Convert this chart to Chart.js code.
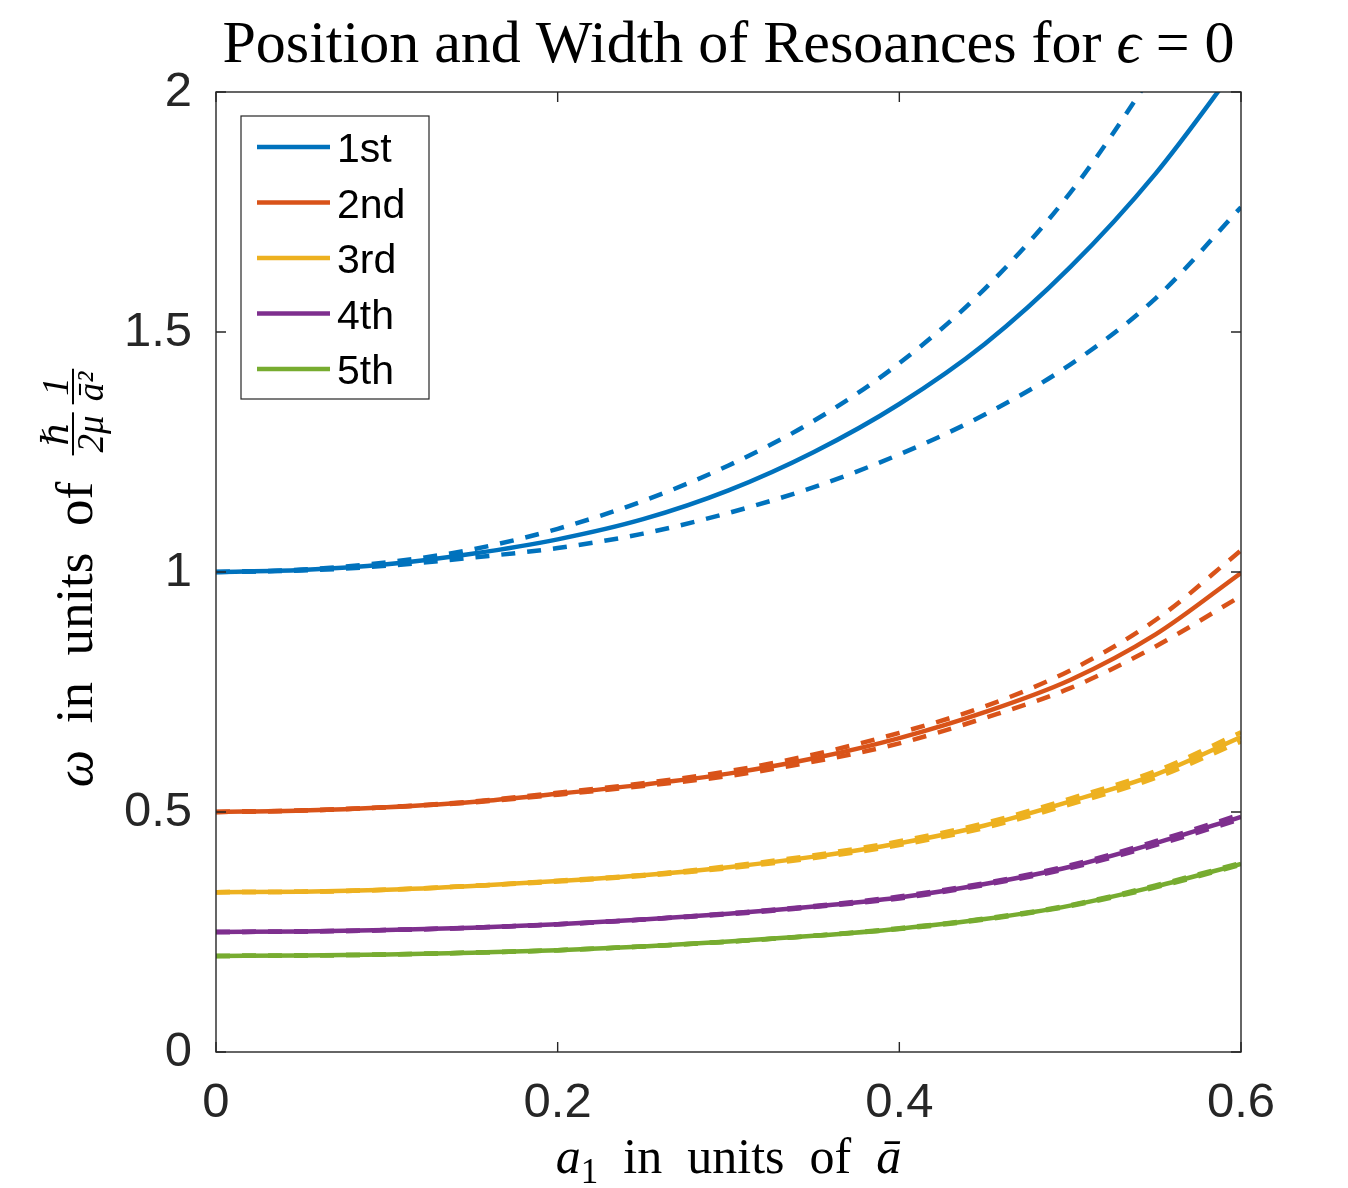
<!DOCTYPE html>
<html>
<head>
<meta charset="utf-8">
<title>Position and Width of Resoances</title>
<script src="https://cdn.jsdelivr.net/npm/chart.js@4.4.1/dist/chart.umd.min.js"></script>
<style>
  html, body { margin: 0; padding: 0; background: #fff; }
  #wrap { width: 1348px; height: 1188px; }
</style>
</head>
<body>
<div id="wrap"><canvas id="myChart" width="1348" height="1188"></canvas></div>
<script>
// a1 values (units of a-bar)
const a1 = [0, 0.05, 0.1, 0.15, 0.2, 0.25, 0.3, 0.35, 0.4, 0.45, 0.5, 0.55, 0.6];

// resonance positions (solid) and position +/- width (dashed)
const pos1 = [1.0, 1.004, 1.016, 1.038, 1.068, 1.11, 1.17, 1.25, 1.35, 1.475, 1.635, 1.83, 2.065];
const up1  = [1.0, 1.005, 1.02, 1.047, 1.09, 1.148, 1.222, 1.315, 1.435, 1.59, 1.79, 2.05, 2.36];
const lo1  = [1.0, 1.003, 1.013, 1.03, 1.05, 1.08, 1.123, 1.177, 1.245, 1.328, 1.432, 1.57, 1.76];

const pos2 = [0.5, 0.503, 0.51, 0.521, 0.538, 0.557, 0.58, 0.612, 0.654, 0.708, 0.775, 0.87, 0.998];
const up2  = [0.5, 0.503, 0.51, 0.522, 0.54, 0.56, 0.585, 0.62, 0.665, 0.72, 0.795, 0.9, 1.045];
const lo2  = [0.5, 0.503, 0.51, 0.52, 0.536, 0.554, 0.575, 0.605, 0.643, 0.696, 0.758, 0.845, 0.95];

const pos3 = [0.333, 0.334, 0.338, 0.346, 0.356, 0.368, 0.385, 0.407, 0.435, 0.472, 0.522, 0.578, 0.656];
const up3  = [0.333, 0.334, 0.338, 0.346, 0.357, 0.369, 0.387, 0.41, 0.439, 0.477, 0.528, 0.585, 0.666];
const lo3  = [0.333, 0.334, 0.338, 0.346, 0.355, 0.367, 0.383, 0.404, 0.431, 0.467, 0.516, 0.571, 0.647];

const pos4 = [0.25, 0.251, 0.254, 0.259, 0.266, 0.276, 0.288, 0.303, 0.322, 0.35, 0.386, 0.435, 0.49];
const up4  = [0.25, 0.251, 0.254, 0.259, 0.266, 0.276, 0.289, 0.304, 0.324, 0.352, 0.389, 0.439, 0.495];
const lo4  = [0.25, 0.251, 0.254, 0.259, 0.266, 0.276, 0.287, 0.302, 0.32, 0.348, 0.383, 0.431, 0.485];

const pos5 = [0.2, 0.201, 0.203, 0.207, 0.212, 0.22, 0.23, 0.242, 0.257, 0.277, 0.305, 0.345, 0.392];
const up5  = [0.2, 0.201, 0.203, 0.207, 0.212, 0.22, 0.23, 0.242, 0.258, 0.278, 0.306, 0.347, 0.394];
const lo5  = [0.2, 0.201, 0.203, 0.207, 0.212, 0.22, 0.23, 0.242, 0.256, 0.276, 0.304, 0.343, 0.39];

const labels = ["1st", "2nd", "3rd", "4th", "5th"];
const colors = ["#0072BD", "#D95319", "#EDB120", "#7E2F8E", "#77AC30"];

const xTicks = [0, 0.2, 0.4, 0.6];
const yTicks = [0, 0.5, 1, 1.5, 2];

const series = [[pos1, up1, lo1], [pos2, up2, lo2], [pos3, up3, lo3], [pos4, up4, lo4], [pos5, up5, lo5]];

function pts(arr) {
  return a1.map(function(x, i) { return { x: x, y: arr[i] }; });
}

const datasets = [];
series.forEach(function(s, i) {
  datasets.push({
    label: labels[i], data: pts(s[0]), borderColor: colors[i], borderWidth: 4.5,
    pointRadius: 0, cubicInterpolationMode: "monotone", fill: false, order: 1
  });
  [s[1], s[2]].forEach(function(d) {
    datasets.push({
      label: "", data: pts(d), borderColor: colors[i], borderWidth: 4.5, borderDash: [14, 12],
      pointRadius: 0, cubicInterpolationMode: "monotone", fill: false, order: 0
    });
  });
});

// draw text made of runs (different fonts / offsets) on one baseline
function runsWidth(ctx, runs) {
  let w = 0;
  runs.forEach(function(r) { ctx.font = r.font; w += ctx.measureText(r.text).width; });
  return w;
}
function drawRuns(ctx, runs, x, y) {
  runs.forEach(function(r) {
    ctx.font = r.font;
    ctx.fillText(r.text, x, y + (r.dy || 0));
    x += ctx.measureText(r.text).width;
  });
  return x;
}
function fracWidth(ctx, num, den, font) {
  ctx.font = font;
  return Math.max(ctx.measureText(num).width, ctx.measureText(den).width) + 6;
}
function drawFrac(ctx, num, den, x, barY, font) {
  ctx.font = font;
  const wn = ctx.measureText(num).width, wd = ctx.measureText(den).width;
  const w = Math.max(wn, wd) + 6;
  ctx.textAlign = "left";
  ctx.fillText(num, x + (w - wn) / 2, barY - 5);
  ctx.fillText(den, x + (w - wd) / 2, barY + 30);
  ctx.fillRect(x, barY - 1, w, 2);
  return x + w;
}

const serif = "'Liberation Serif', 'DejaVu Serif', serif";
const sp = "\u2002";
const decor = {
  id: "decor",
  afterDraw: function(chart) {
    const ctx = chart.ctx;
    const area = chart.chartArea;
    const xs = chart.scales.x, ys = chart.scales.y;
    ctx.save();
    // box and inward ticks
    ctx.strokeStyle = "#262626";
    ctx.lineWidth = 1.4;
    ctx.strokeRect(area.left, area.top, area.right - area.left, area.bottom - area.top);
    ctx.beginPath();
    xTicks.forEach(function(v) {
      const px = xs.getPixelForValue(v);
      ctx.moveTo(px, area.bottom); ctx.lineTo(px, area.bottom - 10);
      ctx.moveTo(px, area.top); ctx.lineTo(px, area.top + 10);
    });
    yTicks.forEach(function(v) {
      const py = ys.getPixelForValue(v);
      ctx.moveTo(area.left, py); ctx.lineTo(area.left + 10, py);
      ctx.moveTo(area.right, py); ctx.lineTo(area.right - 10, py);
    });
    ctx.stroke();

    // legend
    const lx = area.left + 25, ly = area.top + 24;
    ctx.fillStyle = "#fff";
    ctx.fillRect(lx, ly, 188, 283);
    ctx.strokeStyle = "#262626";
    ctx.lineWidth = 1.2;
    ctx.strokeRect(lx, ly, 188, 283);
    ctx.font = "41px 'Liberation Sans', Arial, sans-serif";
    ctx.textAlign = "left";
    ctx.textBaseline = "alphabetic";
    chart.data.datasets.filter(function(d) { return d.label; }).forEach(function(d, i) {
      const y = ly + 31 + i * 55.5;
      ctx.strokeStyle = d.borderColor;
      ctx.lineWidth = 4.5;
      ctx.beginPath();
      ctx.moveTo(lx + 16, y); ctx.lineTo(lx + 89, y);
      ctx.stroke();
      ctx.fillStyle = "#000";
      ctx.fillText(d.label, lx + 96, y + 15);
    });

    // title
    ctx.fillStyle = "#000";
    ctx.textAlign = "left";
    const cx = (area.left + area.right) / 2;
    const tRuns = [
      { text: "Position and Width of Resoances for ", font: "60px " + serif },
      { text: "\u03F5", font: "italic 60px " + serif },
      { text: " = 0", font: "60px " + serif }
    ];
    drawRuns(ctx, tRuns, cx - runsWidth(ctx, tRuns) / 2, 62);

    // x axis title
    const xRuns = [
      { text: "a", font: "italic 50px " + serif },
      { text: "1", font: "35px " + serif, dy: 10 },
      { text: sp + "in" + sp + "units" + sp + "of" + sp, font: "50px " + serif },
      { text: "\u0101", font: "italic 50px " + serif }
    ];
    drawRuns(ctx, xRuns, cx - runsWidth(ctx, xRuns) / 2, 1173);

    // y axis title (rotated)
    ctx.translate(92, 578);
    ctx.rotate(-Math.PI / 2);
    const fFont = "italic 37px " + serif;
    const yRuns = [
      { text: "\u03C9", font: "italic 53px " + serif },
      { text: sp + "in" + sp + "units" + sp + "of" + sp, font: "53px " + serif }
    ];
    const total = runsWidth(ctx, yRuns) + fracWidth(ctx, "\u210F", "2\u03BC", fFont) + 8 +
      fracWidth(ctx, "1", "\u0101\u00B2", fFont);
    let x = -total / 2;
    x = drawRuns(ctx, yRuns, x, 0);
    x = drawFrac(ctx, "\u210F", "2\u03BC", x, -19, fFont);
    drawFrac(ctx, "1", "\u0101\u00B2", x + 8, -19, fFont);
    ctx.restore();
  }
};

new Chart(document.getElementById("myChart"), {
  type: "line",
  data: { datasets: datasets },
  options: {
    responsive: false,
    animation: false,
    devicePixelRatio: 1,
    layout: { padding: { top: 92, right: 107, left: 0, bottom: 0 } },
    plugins: { legend: { display: false }, title: { display: false }, tooltip: { enabled: false } },
    scales: {
      x: {
        type: "linear", min: 0, max: 0.6,
        grid: { display: false, drawTicks: false },
        border: { display: false },
        afterFit: function(scale) { scale.height = 136; },
        afterBuildTicks: function(scale) { scale.ticks = xTicks.map(function(v) { return { value: v }; }); },
        ticks: {
          autoSkip: false, maxRotation: 0, padding: 22, color: "#262626",
          font: { family: "'Liberation Sans', Arial, sans-serif", size: 49 },
          callback: function(v) { return String(v); }
        }
      },
      y: {
        type: "linear", min: 0, max: 2,
        grid: { display: false, drawTicks: false },
        border: { display: false },
        afterFit: function(scale) { scale.width = 216; },
        afterBuildTicks: function(scale) { scale.ticks = yTicks.map(function(v) { return { value: v }; }); },
        ticks: {
          autoSkip: false, padding: 24, color: "#262626",
          font: { family: "'Liberation Sans', Arial, sans-serif", size: 49 },
          callback: function(v) { return String(v); }
        }
      }
    }
  },
  plugins: [decor]
});
</script>
</body>
</html>
